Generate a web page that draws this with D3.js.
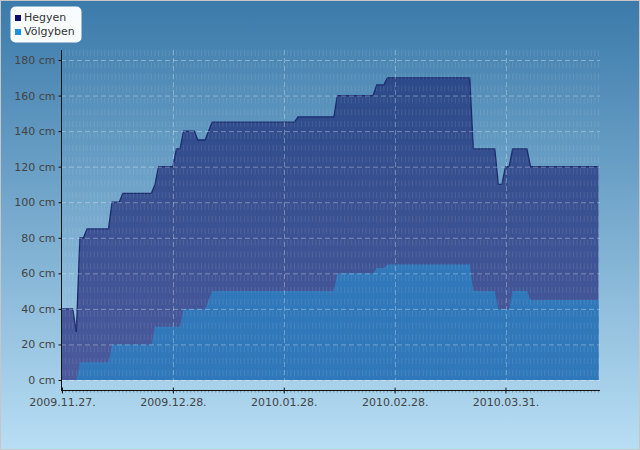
<!DOCTYPE html>
<html>
<head>
<meta charset="utf-8">
<script src="https://cdn.jsdelivr.net/npm/d3@7"></script>
<style>
  body { margin: 0; }
  svg { display: block; font-family: "DejaVu Sans", sans-serif; }
</style>
</head>
<body>
<svg width="640" height="450"></svg>
<script>
const width = 640, height = 450;
const svg = d3.select("svg");
const parse = d3.utcParse("%Y-%m-%d");

// Hegyen (mountain) snow depth, cm
const hegyenDates = ["2009-11-27","2009-11-30","2009-12-01","2009-12-02","2009-12-03","2009-12-04",
  "2009-12-10","2009-12-11","2009-12-13","2009-12-14","2009-12-22","2009-12-23","2009-12-24",
  "2009-12-28","2009-12-29","2009-12-30","2009-12-31","2010-01-03","2010-01-04","2010-01-06",
  "2010-01-08","2010-01-31","2010-02-01","2010-02-11","2010-02-12","2010-02-22","2010-02-23",
  "2010-02-25","2010-02-26","2010-03-21","2010-03-22","2010-03-28","2010-03-29","2010-03-30",
  "2010-03-31","2010-04-01","2010-04-02","2010-04-06","2010-04-07","2010-04-26"];
const hegyenValues = [40,40,27,80,80,85,
  85,100,100,105,105,110,120,
  120,130,130,140,140,135,135,
  145,145,148,148,160,160,166,
  166,170,170,130,130,110,110,
  120,120,130,130,120,120];

// Völgyben (valley) snow depth, cm
const volgyDates = ["2009-11-27","2009-12-01","2009-12-02","2009-12-10","2009-12-11",
  "2009-12-22","2009-12-23","2009-12-30","2009-12-31","2010-01-06","2010-01-08",
  "2010-02-11","2010-02-12","2010-02-22","2010-02-23","2010-02-25","2010-02-26",
  "2010-03-21","2010-03-22","2010-03-28","2010-03-29","2010-04-01","2010-04-02",
  "2010-04-06","2010-04-07","2010-04-26"];
const volgyValues = [0,0,10,10,20,
  20,30,30,40,40,50,
  50,60,60,63,63,65,
  65,50,50,40,40,50,
  50,45,45];

const xTickDates = ["2009-11-27","2009-12-28","2010-01-28","2010-02-28","2010-03-31"];
const yTicks = [0,20,40,60,80,100,120,140,160,180];

const hegyen = hegyenDates.map((d, i) => ({ date: parse(d), value: hegyenValues[i] }));
const volgy = volgyDates.map((d, i) => ({ date: parse(d), value: volgyValues[i] }));

const plot = { left: 61, right: 600, top: 50, bottom: 390 };

const x = d3.scaleUtc()
  .domain([parse("2009-11-27"), parse("2010-04-26")])
  .range([62, 598.5]);
const y = d3.scaleLinear().domain([0, 180]).range([380, 60]);

const defs = svg.append("defs");
const bg = defs.append("linearGradient").attr("id", "bg")
  .attr("x1", 0).attr("y1", 0).attr("x2", 0).attr("y2", 1);
bg.append("stop").attr("offset", "0%").attr("stop-color", "#3b7aaa");
bg.append("stop").attr("offset", "100%").attr("stop-color", "#b8def4");

const hg = defs.append("linearGradient").attr("id", "hg")
  .attr("gradientUnits", "userSpaceOnUse")
  .attr("x1", 0).attr("y1", 60).attr("x2", 0).attr("y2", 380);
hg.append("stop").attr("offset", "0%").attr("stop-color", "#2a4988");
hg.append("stop").attr("offset", "100%").attr("stop-color", "#4b5a9c");

// background + border
svg.append("rect")
  .attr("x", 0.5).attr("y", 0.5)
  .attr("width", width - 1).attr("height", height - 1)
  .attr("fill", "url(#bg)")
  .attr("stroke", "#c6c6c6");

// areas
const area = d3.area()
  .x(d => x(d.date))
  .y0(y(0))
  .y1(d => y(d.value));

svg.append("path")
  .datum(hegyen)
  .attr("d", area)
  .attr("fill", "url(#hg)");

svg.append("path")
  .datum(hegyen)
  .attr("d", d3.line().x(d => x(d.date)).y(d => y(d.value)))
  .attr("fill", "none")
  .attr("stroke", "#1b2a6e")
  .attr("stroke-width", 1.3);

svg.append("path")
  .datum(volgy)
  .attr("d", area)
  .attr("fill", "#3078ba");

// daily stripe grid (drawn over the areas)
const days = d3.utcDay.range(x.domain()[0], d3.utcDay.offset(x.domain()[1], 1));
svg.append("g")
  .selectAll("line")
  .data(days)
  .join("line")
  .attr("x1", d => x(d)).attr("x2", d => x(d))
  .attr("y1", plot.top).attr("y2", plot.bottom)
  .attr("stroke", "#fff")
  .attr("stroke-opacity", 0.1)
  .attr("stroke-dasharray", "6,5.85");

// major grid
svg.append("g")
  .selectAll("line")
  .data(yTicks)
  .join("line")
  .attr("x1", plot.left).attr("x2", plot.right)
  .attr("y1", d => y(d) + 0.5).attr("y2", d => y(d) + 0.5)
  .attr("stroke", "#fff")
  .attr("stroke-opacity", 0.35)
  .attr("stroke-dasharray", "5,3");

svg.append("g")
  .selectAll("line")
  .data(xTickDates.slice(1))
  .join("line")
  .attr("x1", d => Math.round(x(parse(d))) + 0.5).attr("x2", d => Math.round(x(parse(d))) + 0.5)
  .attr("y1", plot.top).attr("y2", plot.bottom)
  .attr("stroke", "#fff")
  .attr("stroke-opacity", 0.3)
  .attr("stroke-dasharray", "5,3");

// minor daily ticks under x axis
svg.append("g")
  .selectAll("line")
  .data(days)
  .join("line")
  .attr("x1", d => x(d)).attr("x2", d => x(d))
  .attr("y1", plot.bottom).attr("y2", plot.bottom + 2.5)
  .attr("stroke", "#555")
  .attr("stroke-opacity", 0.5);

// x axis
const xAxis = svg.append("g")
  .attr("transform", `translate(0,${plot.bottom + 0.5})`)
  .call(d3.axisBottom(x)
    .tickValues(xTickDates.map(parse))
    .tickFormat(d3.utcFormat("%Y.%m.%d."))
    .tickSize(3)
    .tickSizeOuter(0));
xAxis.select(".domain").attr("d", `M${plot.left},0H${plot.right}`).attr("stroke", "#111");
xAxis.selectAll(".tick line").attr("stroke", "#111").attr("y1", -3);
xAxis.selectAll(".tick text")
  .attr("y", 8)
  .attr("fill", "#444")
  .style("font-size", "11px")
  .style("font-family", "DejaVu Sans");

// y axis
const yAxis = svg.append("g")
  .attr("transform", `translate(${plot.left + 0.5},0)`)
  .call(d3.axisLeft(y)
    .tickValues(yTicks)
    .tickFormat(d => `${d} cm`)
    .tickSize(3)
    .tickSizeOuter(0));
yAxis.select(".domain").attr("d", `M0,${plot.top}V${plot.bottom}`).attr("stroke", "#111");
yAxis.selectAll(".tick line").attr("stroke", "#111");
yAxis.selectAll(".tick text")
  .attr("x", -6)
  .attr("fill", "#444")
  .style("font-size", "11px")
  .style("font-family", "DejaVu Sans");

// legend
const legend = svg.append("g");
legend.append("rect")
  .attr("x", 10.5).attr("y", 6.5)
  .attr("width", 71).attr("height", 36)
  .attr("rx", 5)
  .attr("fill", "#f8fcff");
const legendItems = [
  { name: "Hegyen", color: "#0c0c6a" },
  { name: "Völgyben", color: "#1e8fd9" }
];
legendItems.forEach((item, i) => {
  legend.append("rect")
    .attr("x", 15).attr("y", 15 + i * 14)
    .attr("width", 6).attr("height", 6)
    .attr("fill", item.color);
  legend.append("text")
    .attr("x", 24).attr("y", 21 + i * 13.5)
    .attr("fill", "#333")
    .style("font-size", "11px")
    .text(item.name);
});
</script>
</body>
</html>
